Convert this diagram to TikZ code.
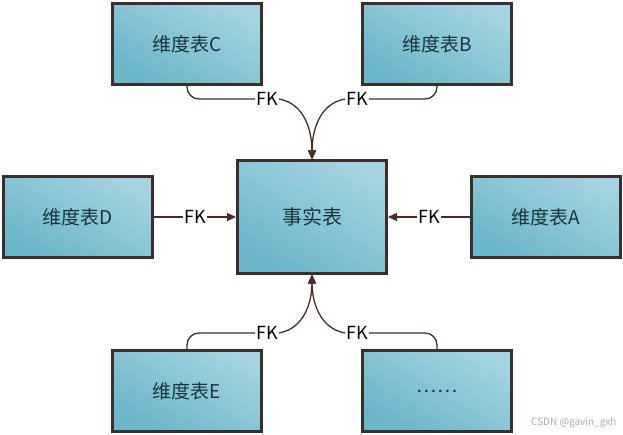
\documentclass[tikz,border=0pt]{standalone}
\usepackage{fontspec}
\setmainfont{Noto Sans CJK SC}
\usetikzlibrary{arrows.meta, positioning}
\definecolor{tblborder}{HTML}{3B2E2B}
\definecolor{tbldark}{HTML}{6AB6CA}
\definecolor{tbllight}{HTML}{A3D3E0}
\definecolor{tbltext}{HTML}{1A3440}
\definecolor{linkbrown}{HTML}{4A2B25}
\definecolor{markgray}{HTML}{ABABAB}
\tikzset{
  dimtab/.style={rectangle, draw=tblborder, line width=3pt,
    bottom color=tbldark, top color=tbllight, shading angle=-30,
    text=tbltext, font=\fontsize{19}{22}\selectfont,
    minimum width=149pt, minimum height=81pt, inner sep=2pt},
  facttab/.style={dimtab, minimum height=112pt, font=\fontsize{20}{23}\selectfont},
  fk/.style={font=\fontsize{18}{20}\selectfont, text=black, inner sep=1pt},
  lnk/.style={draw=linkbrown, line width=1.3pt, rounded corners=12pt},
  arr/.style={lnk, -{Triangle[length=9pt,width=8pt]}},
}
\begin{document}
\begin{tikzpicture}[x=1pt,y=1pt]
\useasboundingbox (0,0) rectangle (623,434);

\node[facttab] (fact) at (312,217) {事实表};
\node[dimtab] (dimC) at (187,390) {维度表C};
\node[dimtab] (dimB) at (437,390) {维度表B};
\node[dimtab] (dimD) at (78,217)  {维度表D};
\node[dimtab] (dimA) at (546,217) {维度表A};
\node[dimtab] (dimE) at (187,43)  {维度表E};
\node[dimtab] (more) at (437,43)  {……};

\node[fk] (fkC) at (267,335) {FK};
\node[fk] (fkB) at (357,335) {FK};
\node[fk] (fkD) at (195,217) {FK};
\node[fk] (fkA) at (429,217) {FK};
\node[fk] (fkE) at (267,101) {FK};
\node[fk] (fkM) at (357,101) {FK};

\draw[lnk] (dimC.south) |- (fkC.west);
\draw[arr] (fkC.east) to[out=-10,in=90] (fact.north);
\draw[lnk] (dimB.south) |- (fkB.east);
\draw[arr] (fkB.west) to[out=190,in=90] (fact.north);
\draw[lnk] (dimD.east) -- (fkD.west);
\draw[arr] (fkD.east) -- (fact.west);
\draw[lnk] (dimA.west) -- (fkA.east);
\draw[arr] (fkA.west) -- (fact.east);
\draw[lnk] (dimE.north) |- (fkE.west);
\draw[arr] (fkE.east) to[out=10,in=-90] (fact.south);
\draw[lnk] (more.north) |- (fkM.east);
\draw[arr] (fkM.west) to[out=170,in=-90] (fact.south);

\node[text=markgray, font=\fontsize{10}{12}\selectfont, anchor=east] (mark) at (620,11) {CSDN @gavin\_gxh};
\end{tikzpicture}
\end{document}
